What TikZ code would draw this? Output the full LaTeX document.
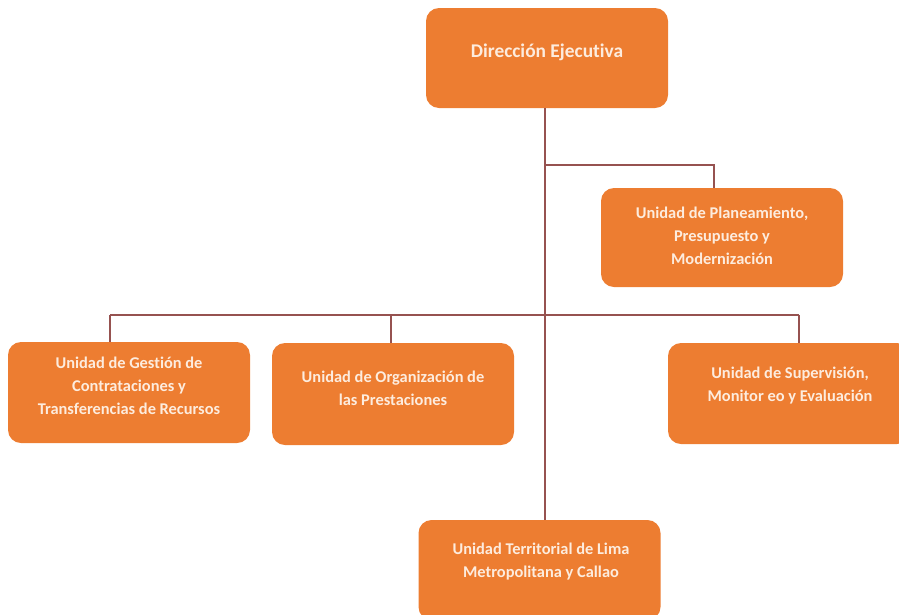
\documentclass[tikz,border=0pt]{standalone}
\usepackage{fontspec}
\setmainfont{Carlito}[Ligatures=NoCommon]
\definecolor{boxorange}{RGB}{237,125,49}
\definecolor{linebrown}{RGB}{150,82,80}
\definecolor{txtcream}{RGB}{253,236,222}
\begin{document}
\begin{tikzpicture}[x=1pt,y=-1pt,
  unitbox/.style={draw=none,fill=boxorange,rounded corners=13pt,minimum width=242pt,minimum height=100pt,inner sep=0pt},
  unittext/.style={text=txtcream,font=\bfseries\fontsize{16.4}{23}\selectfont,align=center,inner sep=0pt},
  conn/.style={draw=linebrown,line width=1.3pt}]
\useasboundingbox (0,0) rectangle (899,614);
% boxes
\node[unitbox] (top) at (547,58) {};
\node[unitbox,minimum height=99pt] (plan) at (722,237.5) {};
\node[unitbox,minimum height=101pt] (left) at (129,392.5) {};
\node[unitbox,minimum height=102pt] (mid) at (393,394) {};
\node[unitbox,minimum height=101pt] (right) at (789,393.5) {};
\node[unitbox] (lima) at (539.5,570) {};
% texts
\node[unittext,font=\bfseries\fontsize{19.4}{23}\selectfont] (ttop) at (547,52) {Dirección Ejecutiva};
\node[unittext] (tplan) at (722,236) {Unidad de Planeamiento,\\Presupuesto y\\Modernización};
\node[unittext] (tleft) at (129,385.5) {Unidad de Gestión de\\Contrataciones y\\Transferencias de Recursos};
\node[unittext] (tmid) at (393,388) {Unidad de Organización de\\las Prestaciones};
\node[unittext] (tright) at (790,385.5) {Unidad de Supervisión,\\Monitor eo y Evaluación};
\node[unittext] (tlima) at (541,562) {Unidad Territorial de Lima\\Metropolitana y Callao};
% junctions
\coordinate (j1) at (545,165);
\coordinate (d1) at (110,315);
\coordinate (d2) at (391,315);
\coordinate (d3) at (799,315);
\coordinate (p1) at (714,165);
% connectors
\draw[conn] (j1 |- top.south) -- (j1 |- lima.north);
\draw[conn] (j1) -- (p1) -- (p1 |- plan.north);
\draw[conn] (d1) -- (d3);
\draw[conn] (d1) -- (d1 |- left.north);
\draw[conn] (d2) -- (d2 |- mid.north);
\draw[conn] (d3) -- (d3 |- right.north);
\end{tikzpicture}
\end{document}
